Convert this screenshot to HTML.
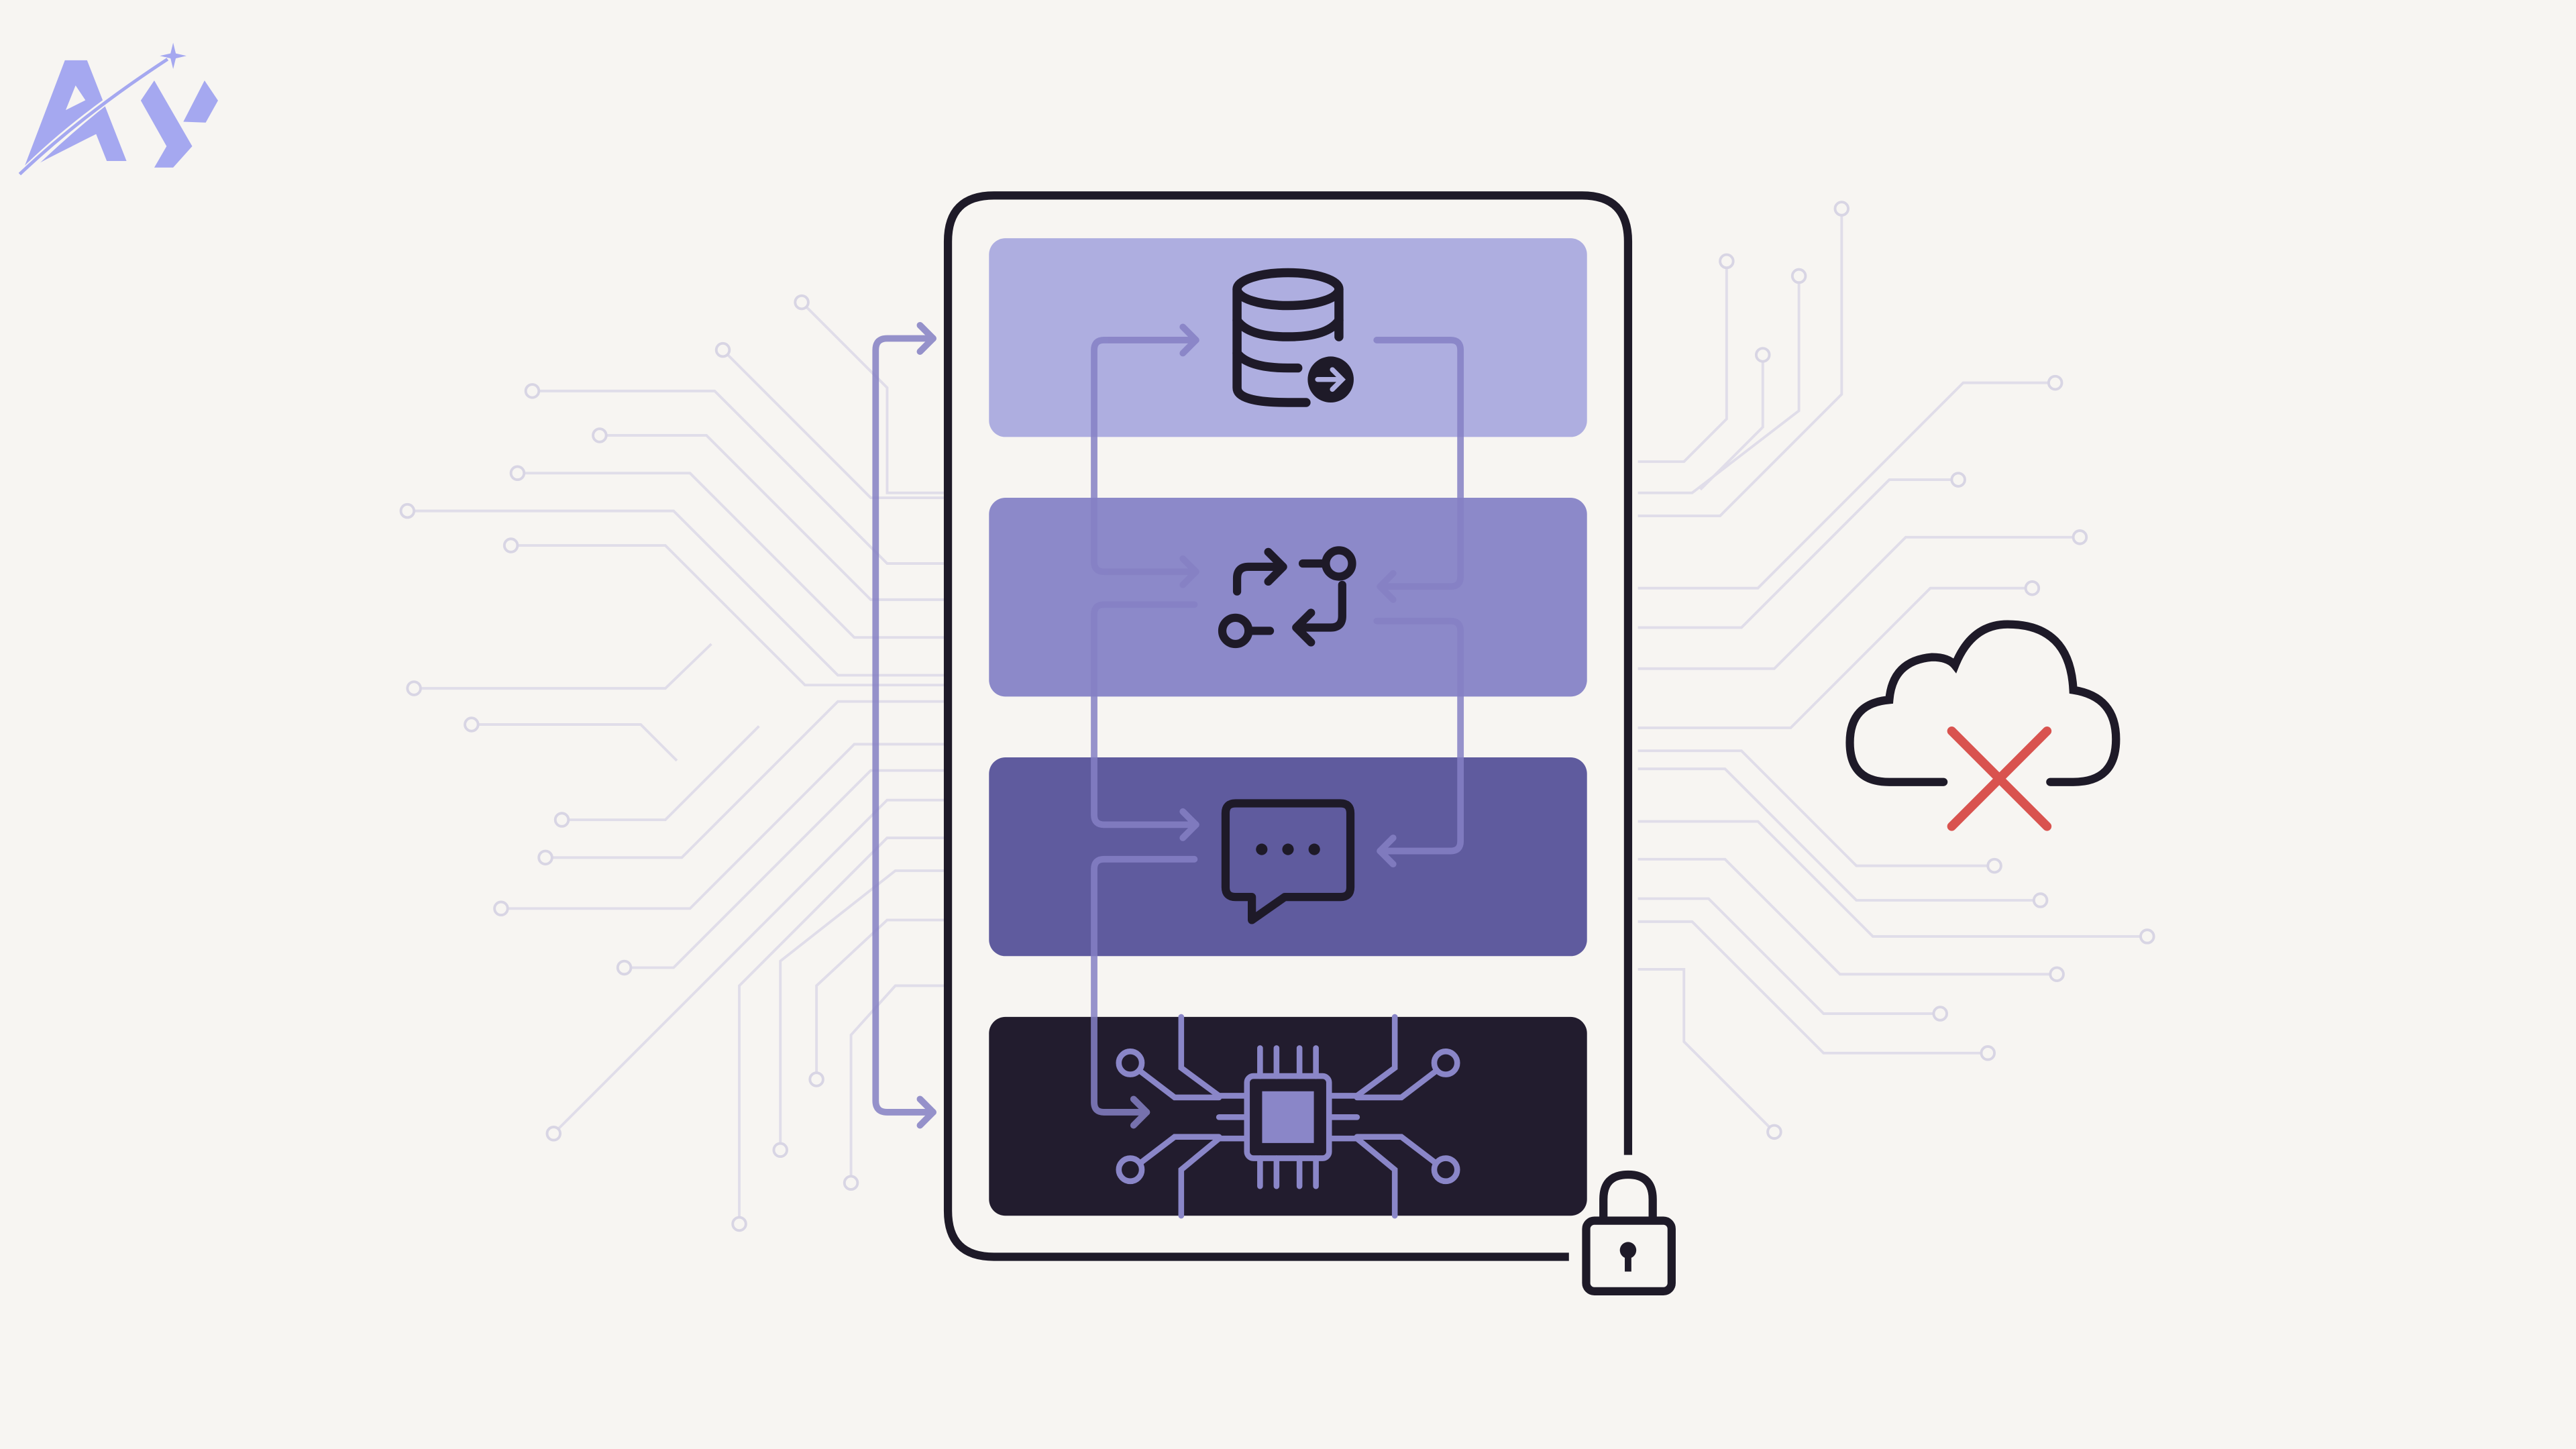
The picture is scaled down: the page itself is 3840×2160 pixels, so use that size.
<!DOCTYPE html>
<html><head><meta charset="utf-8"><style>html,body{margin:0;padding:0;background:#f7f5f2}svg{display:block}</style></head>
<body>
<svg width="3840" height="2160" viewBox="0 0 1568 882" preserveAspectRatio="none" xmlns="http://www.w3.org/2000/svg">
<rect width="1568" height="882" fill="#f7f5f2"/>
<!-- logo -->
<g fill="#a5a8f0">
<polygon points="13.6,104.8 39.5,36.7 53,36.7 77,98 65,98 58.5,81.6 30,96"/>
<polygon points="85.7,61.2 93.9,49 117,89 105.4,102 93.9,102 101.4,89"/>
<polygon points="111.6,74.1 124.5,49 132.7,61.2 125.2,74.6"/>
<path d="M105.4,26 L107,32.5 L113.5,34 L107,35.5 L105.4,42 L103.8,35.5 L97.3,34 L103.8,32.5 Z"/>
</g>
<polygon points="46,52 40,67 52,61" fill="#f7f5f2"/>
<path d="M10,108 Q45,72 102,36 Q60,62 14,107 Z" fill="#a5a8f0" stroke="#f7f5f2" stroke-width="3"/>
<path d="M12,106 Q50,70 102,36" fill="none" stroke="#a5a8f0" stroke-width="2"/>
<!-- circuit lines -->
<g fill="none" stroke="#e0dde9" stroke-width="1.6">
<path d="M324,238 H435 L540,343 H575"/>
<path d="M365,265 H430 L530,365 H575"/>
<path d="M315,288 H420 L520,388 H575"/>
<path d="M248,311 H410 L510,411 H575"/>
<path d="M311,332 H405 L490,417 H575"/>
<path d="M252,419 H405 L433,392"/>
<path d="M287,441 H390 L412,463"/>
<path d="M342,499 H405 L462,442"/>
<path d="M332,522 H415 L510,427 H575"/>
<path d="M305,553 H420 L520,453 H575"/>
<path d="M380,589 H410 L530,469 H575"/>
<path d="M337,690 L540,487 H575"/>
<path d="M450,745 V600 L540,510 H575"/>
<path d="M475,700 V585 L545,530 H575"/>
<path d="M497,657 V600 L540,560 H575"/>
<path d="M518,720 V630 L545,600 H575"/>
<path d="M488,184 L540,236 V300 H575"/>
<path d="M440,213 L530,303 H575"/>
<path d="M1121,127 V240 L1047,314 H997"/>
<path d="M1051,159 V255 L1025,281 H997"/>
<path d="M1095,168 V250 L1030,300 H997"/>
<path d="M1073,216 V260 L1035,298"/>
<path d="M1251,233 H1195 L1070,358 H997"/>
<path d="M1192,292 H1150 L1060,382 H997"/>
<path d="M1266,327 H1160 L1080,407 H997"/>
<path d="M1237,358 H1175 L1090,443 H997"/>
<path d="M1214,527 H1130 L1060,457 H997"/>
<path d="M1242,548 H1130 L1050,468 H997"/>
<path d="M1307,570 H1140 L1070,500 H997"/>
<path d="M1252,593 H1120 L1050,523 H997"/>
<path d="M1181,617 H1110 L1040,547 H997"/>
<path d="M1210,641 H1110 L1030,561 H997"/>
<path d="M1080,689 L1025,634 V590 H997"/>
</g>
<g fill="#f7f5f2" stroke="#d8d5e4" stroke-width="1.6">
<circle cx="324" cy="238" r="4"/><circle cx="365" cy="265" r="4"/><circle cx="315" cy="288" r="4"/><circle cx="248" cy="311" r="4"/><circle cx="311" cy="332" r="4"/><circle cx="252" cy="419" r="4"/><circle cx="287" cy="441" r="4"/><circle cx="342" cy="499" r="4"/><circle cx="332" cy="522" r="4"/><circle cx="305" cy="553" r="4"/><circle cx="380" cy="589" r="4"/><circle cx="337" cy="690" r="4"/><circle cx="450" cy="745" r="4"/><circle cx="475" cy="700" r="4"/><circle cx="497" cy="657" r="4"/><circle cx="518" cy="720" r="4"/><circle cx="488" cy="184" r="4"/><circle cx="440" cy="213" r="4"/>
<circle cx="1121" cy="127" r="4"/><circle cx="1051" cy="159" r="4"/><circle cx="1095" cy="168" r="4"/><circle cx="1073" cy="216" r="4"/><circle cx="1251" cy="233" r="4"/><circle cx="1192" cy="292" r="4"/><circle cx="1266" cy="327" r="4"/><circle cx="1237" cy="358" r="4"/><circle cx="1214" cy="527" r="4"/><circle cx="1242" cy="548" r="4"/><circle cx="1307" cy="570" r="4"/><circle cx="1252" cy="593" r="4"/><circle cx="1181" cy="617" r="4"/><circle cx="1210" cy="641" r="4"/><circle cx="1080" cy="689" r="4"/>
</g>
<!-- device -->
<path d="M955,765 H605 Q577,765 577,737 V147 Q577,119 605,119 H963 Q991,119 991,147 V703" fill="#f7f5f2" stroke="#1e1a28" stroke-width="5"/>
<rect x="602" y="145" width="364" height="121" rx="10" fill="#aeaee0"/>
<rect x="602" y="303" width="364" height="121" rx="10" fill="#8c89c9"/>
<rect x="602" y="461" width="364" height="121" rx="10" fill="#5f5b9e"/>
<rect x="602" y="619" width="364" height="121" rx="10" fill="#221c2e"/>
<!-- connectors -->
<g fill="none" stroke="#8580c4" stroke-width="4" stroke-linecap="round" stroke-linejoin="round" opacity="0.85">
<path d="M568,206 H540 Q533,206 533,213 V670 Q533,677 540,677 H568"/>
<path d="M560,198 L568,206 L560,214 M560,669 L568,677 L560,685"/>
<path d="M728,207 H672 Q666,207 666,213 V342 Q666,348 672,348 H728"/>
<path d="M720,199 L728,207 L720,215 M720,340 L728,348 L720,356"/>
<path d="M838,207 H883 Q889,207 889,213 V351 Q889,357 883,357 H840"/>
<path d="M848,349 L840,357 L848,365"/>
<path d="M727,368 H672 Q666,368 666,374 V496 Q666,502 672,502 H728"/>
<path d="M720,494 L728,502 L720,510"/>
<path d="M838,378 H883 Q889,378 889,384 V512 Q889,518 883,518 H840"/>
<path d="M848,510 L840,518 L848,526"/>
<path d="M727,523 H672 Q666,523 666,529 V671 Q666,677 672,677 H698"/>
<path d="M690,669 L698,677 L690,685"/>
</g>
<!-- database icon -->
<g fill="none" stroke="#1e1a28" stroke-width="5.5" stroke-linecap="round">
<ellipse cx="784" cy="176" rx="31" ry="10"/>
<path d="M753,176 V236 Q753,245 784,245 H795"/>
<path d="M815,176 V205"/>
<path d="M753,195 Q760,205 784,205 Q808,205 815,195"/>
<path d="M753,215 Q760,224 784,224 H790"/>
</g>
<circle cx="810" cy="231" r="14" fill="#1e1a28"/>
<path d="M802,231 H817 M811,225 L817,231 L811,237" stroke="#aeaee0" stroke-width="3" fill="none" stroke-linecap="round"/>
<!-- flow icon -->
<g fill="none" stroke="#1e1a28" stroke-width="5" stroke-linecap="round" stroke-linejoin="round">
<path d="M753,360 V352 Q753,345 760,345 H779 M772,336 L781,345 L772,354"/>
<path d="M793,343 H805"/><circle cx="815" cy="343" r="8"/>
<path d="M817,356 V375 Q817,382 810,382 H790 M798,373 L789,382 L798,391"/>
<path d="M773,384 H761"/><circle cx="752" cy="384" r="8"/>
</g>
<!-- chat icon -->
<path d="M752,489 H816 Q822,489 822,495 V540 Q822,546 816,546 H782 L762,560 V546 H752 Q746,546 746,540 V495 Q746,489 752,489 Z" fill="none" stroke="#1e1a28" stroke-width="5" stroke-linejoin="round"/>
<g fill="#1e1a28"><circle cx="768" cy="517" r="3.5"/><circle cx="784" cy="517" r="3.5"/><circle cx="800" cy="517" r="3.5"/></g>
<!-- chip icon -->
<g fill="none" stroke="#8a86c8" stroke-width="3.5" stroke-linecap="round">
<rect x="759" y="655" width="50" height="50" rx="4"/>
<rect x="770" y="666" width="28" height="28" fill="#8a86c8"/>
<path d="M767,655 V638 M777,655 V638 M791,655 V638 M801,655 V638 M767,705 V722 M777,705 V722 M791,705 V722 M801,705 V722 M759,667 H742 M759,680 H742 M759,693 H742 M809,667 H826 M809,680 H826 M809,693 H826"/>
<path d="M719,619 V650 L742,667 M849,619 V650 L826,667 M719,740 V712 L742,693 M849,740 V712 L826,693"/>
<path d="M694,652 L715,668 H742 M874,652 L853,668 H826 M694,708 L715,692 H742 M874,708 L853,692 H826"/>
<circle cx="688" cy="647" r="7"/><circle cx="880" cy="647" r="7"/><circle cx="688" cy="712" r="7"/><circle cx="880" cy="712" r="7"/>
</g>
<!-- lock -->
<path d="M976,743 V730 Q976,715 991,715 Q1006,715 1006,730 V743" fill="none" stroke="#1e1a28" stroke-width="5"/>
<rect x="965.5" y="743" width="52" height="43" rx="5" fill="#f7f5f2" stroke="#1e1a28" stroke-width="5"/>
<circle cx="991" cy="761" r="5" fill="#1e1a28"/><rect x="989" y="763" width="4" height="11" fill="#1e1a28"/>
<!-- cloud -->
<path d="M1183,476 H1150 Q1126,476 1126,452 Q1126,428 1150,426 Q1152,402 1176,400 Q1186,400 1190,405 Q1200,380 1222,380 Q1260,380 1262,420 Q1288,424 1288,450 Q1288,476 1262,476 H1248" fill="none" stroke="#1e1a28" stroke-width="5" stroke-linecap="round"/>
<path d="M1188,445 L1246,503 M1246,445 L1188,503" stroke="#d9534f" stroke-width="5.5" stroke-linecap="round"/>
</svg>
</body></html>
